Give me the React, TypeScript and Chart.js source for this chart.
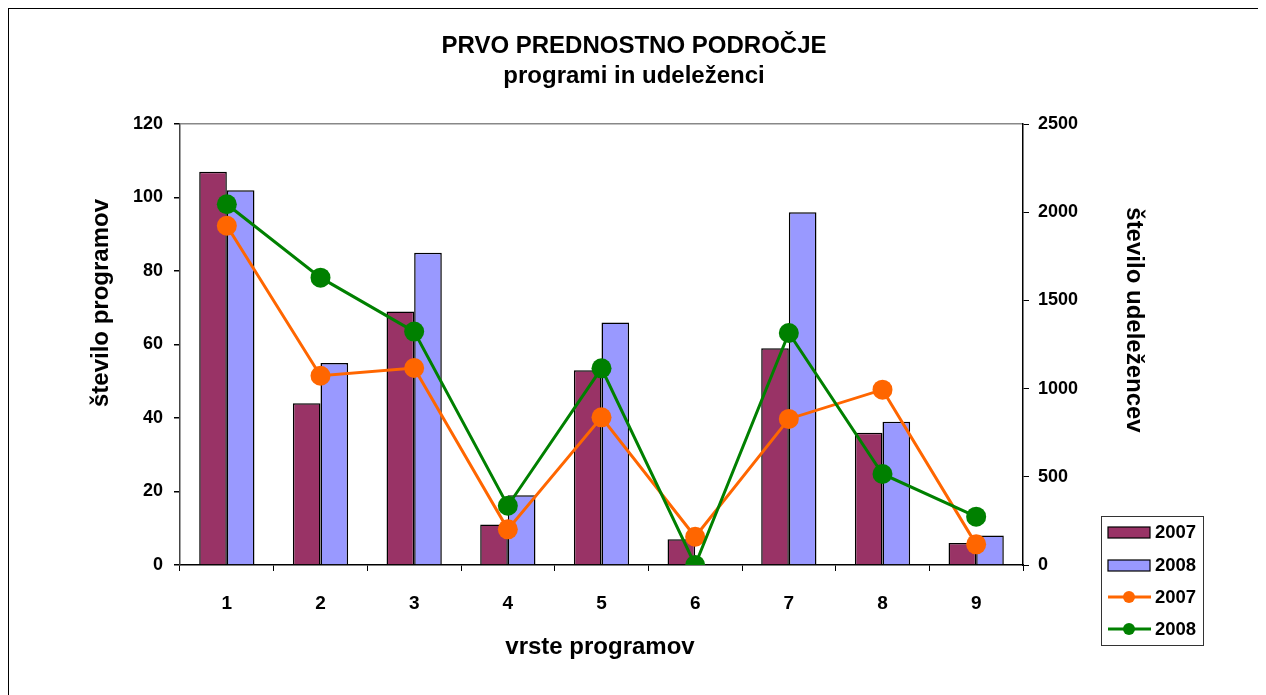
import React, { useEffect, useRef } from "react";
import { Chart, registerables } from "chart.js";

Chart.register(...registerables);

const categories = ["1", "2", "3", "4", "5", "6", "7", "8", "9"];
const programs2007 = [107, 44, 69, 11, 53, 7, 59, 36, 6];
const programs2008 = [102, 55, 85, 19, 66, 0, 96, 39, 8];
const participants2007 = [1923, 1073, 1117, 202, 837, 160, 828, 994, 117];
const participants2008 = [2045, 1629, 1323, 336, 1115, 0, 1315, 516, 274];

const titleLines = ["PRVO PREDNOSTNO PODROČJE", "programi in udeleženci"];
const xTitle = "vrste programov";
const yLeftTitle = "število programov";
const yRightTitle = "število udeležencev";

const FONT = "'Liberation Sans', Arial, sans-serif";

const axisTitlePlugin = {
  id: "axisTitles",
  afterDraw(chart: any) {
    const ctx = chart.ctx as CanvasRenderingContext2D;
    ctx.save();
    ctx.fillStyle = "#000";
    ctx.font = `bold 24px ${FONT}`;
    ctx.textAlign = "center";
    ctx.textBaseline = "middle";
    // bottom title
    ctx.fillText(xTitle, 591, 638);
    // left title
    ctx.save();
    ctx.translate(92, 294);
    ctx.rotate(-Math.PI / 2);
    ctx.fillText(yLeftTitle, 0, 0);
    ctx.restore();
    // right title
    ctx.save();
    ctx.translate(1125, 311);
    ctx.rotate(Math.PI / 2);
    ctx.fillText(yRightTitle, 0, 0);
    ctx.restore();
    ctx.restore();
  },
};

const legendPlugin = {
  id: "customLegend",
  afterDraw(chart: any) {
    const ctx = chart.ctx as CanvasRenderingContext2D;
    const ds = chart.data.datasets;
    ctx.save();
    const x0 = 1092, y0 = 507, w = 102, h = 129;
    ctx.strokeStyle = "#333";
    ctx.lineWidth = 1;
    ctx.strokeRect(x0 + 0.5, y0 + 0.5, w, h);
    const rows = [523, 556, 588, 620];
    const order = [2, 3, 1, 0]; // bar2007, bar2008, line2007, line2008
    ctx.font = `bold 18.5px ${FONT}`;
    ctx.textBaseline = "middle";
    ctx.textAlign = "left";
    order.forEach((di, i) => {
      const d = ds[di];
      const cy = rows[i];
      if (d.type === "bar") {
        ctx.fillStyle = d.backgroundColor;
        ctx.fillRect(1099, cy - 5, 42, 11);
        ctx.strokeStyle = "#000";
        ctx.lineWidth = 1.2;
        ctx.strokeRect(1099, cy - 5, 42, 11);
      } else {
        ctx.strokeStyle = d.borderColor;
        ctx.lineWidth = 3;
        ctx.beginPath();
        ctx.moveTo(1099, cy);
        ctx.lineTo(1142, cy);
        ctx.stroke();
        ctx.fillStyle = d.borderColor;
        ctx.beginPath();
        ctx.arc(1120, cy, 6, 0, Math.PI * 2);
        ctx.fill();
      }
      ctx.fillStyle = "#000";
      ctx.fillText(d.label, 1146, cy + 1);
    });
    ctx.restore();
  },
};

export default function App() {
  const ref = useRef<HTMLCanvasElement | null>(null);

  useEffect(() => {
    if (!ref.current) return;
    const chart = new Chart(ref.current, {
      type: "bar",
      data: {
        labels: categories,
        datasets: [
          {
            type: "line",
            label: "2008",
            data: participants2008,
            yAxisID: "y1",
            borderColor: "#008000",
            backgroundColor: "#008000",
            borderWidth: 3,
            pointRadius: 10,
            pointBackgroundColor: "#008000",
            pointBorderWidth: 0,
            order: 0,
          } as any,
          {
            type: "line",
            label: "2007",
            data: participants2007,
            yAxisID: "y1",
            borderColor: "#FF6600",
            backgroundColor: "#FF6600",
            borderWidth: 3,
            pointRadius: 10,
            pointBackgroundColor: "#FF6600",
            pointBorderWidth: 0,
            order: 1,
          } as any,
          {
            type: "bar",
            label: "2007",
            data: programs2007,
            yAxisID: "y",
            backgroundColor: "#993366",
            borderColor: "#000",
            borderWidth: 1.5,
            categoryPercentage: 0.59,
            barPercentage: 1,
            order: 2,
          } as any,
          {
            type: "bar",
            label: "2008",
            data: programs2008,
            yAxisID: "y",
            backgroundColor: "#9999FF",
            borderColor: "#000",
            borderWidth: 1.5,
            categoryPercentage: 0.59,
            barPercentage: 1,
            order: 2,
          } as any,
        ],
      },
      options: {
        responsive: false,
        animation: false,
        layout: { padding: 0 },
        plugins: {
          legend: { display: false },
          tooltip: { enabled: false },
          title: {
            display: true,
            text: titleLines,
            color: "#000",
            font: { family: FONT, size: 24, weight: "bold", lineHeight: 1.25 },
            padding: { top: 22, bottom: 33 },
          },
        },
        scales: {
          x: {
            offset: true,
            grid: {
              offset: true,
              drawOnChartArea: false,
              drawTicks: true,
              tickLength: 6,
              tickColor: "#000",
            },
            border: { color: "#000", width: 1.5 },
            ticks: {
              color: "#000",
              font: { family: FONT, size: 19, weight: "bold" },
              padding: 21,
              maxRotation: 0,
            },
            afterFit: (s: any) => {
              s.height = 134;
            },
          },
          y: {
            position: "left",
            min: 0,
            max: 120,
            ticks: {
              stepSize: 20,
              color: "#000",
              font: { family: FONT, size: 18, weight: "bold" },
              padding: 11,
            },
            grid: {
              color: (c: any) => (c.tick && c.tick.value === 120 ? "#888" : "rgba(0,0,0,0)"),
              tickColor: "#000",
              tickLength: 6,
              lineWidth: 1.5,
            },
            border: { color: "#444", width: 1.5 },
            afterFit: (s: any) => {
              s.width = 171;
            },
          },
          y1: {
            position: "right",
            min: 0,
            max: 2500,
            ticks: {
              stepSize: 500,
              color: "#000",
              font: { family: FONT, size: 18, weight: "bold" },
              padding: 9,
              callback: (v: any) => String(v),
            },
            grid: {
              drawOnChartArea: false,
              tickColor: "#000",
              tickLength: 6,
            },
            border: { color: "#000", width: 1.5 },
            afterFit: (s: any) => {
              s.width = 236;
            },
          },
        },
      } as any,
      plugins: [axisTitlePlugin, legendPlugin],
    });
    return () => chart.destroy();
  }, []);

  return (
    <div
      style={{
        border: "1px solid #000",
        width: 1250,
        height: 690,
        position: "relative",
        background: "#fff",
      }}
    >
      <canvas ref={ref} width={1250} height={690} style={{ display: "block" }} />
    </div>
  );
}
